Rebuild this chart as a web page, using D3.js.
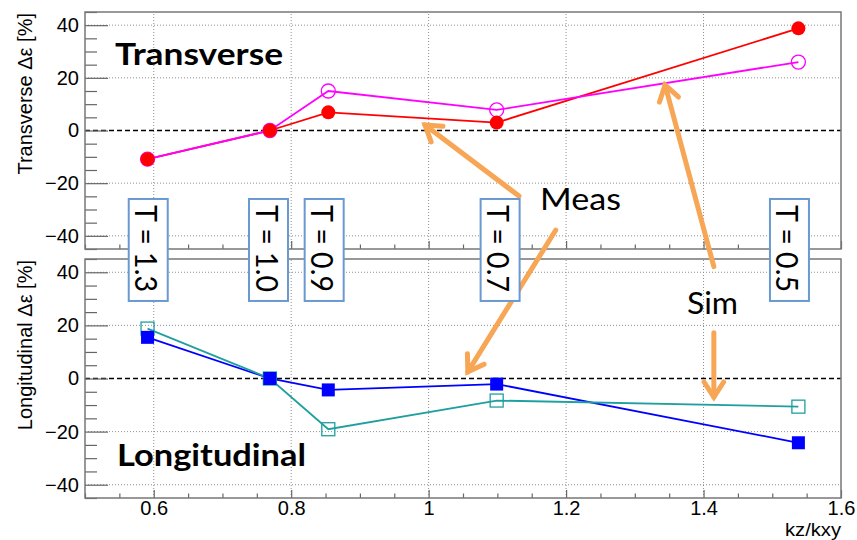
<!DOCTYPE html>
<html>
<head>
<meta charset="utf-8">
<script src="https://cdn.jsdelivr.net/npm/d3@7"></script>
<style>
  body { margin: 0; background: #fff; }
  svg { display: block; }
  .tick text { font-family: "Liberation Sans", Arial, sans-serif; font-size: 20px; fill: #000; }
  .domain { display: none; }
  .tick line { stroke: #666; stroke-width: 1.2; }
  .ax-title { font-family: "Liberation Sans", Arial, sans-serif; font-size: 20px; }
  .note { font-family: Lato, "Open Sans", sans-serif; font-size: 30px; }
</style>
</head>
<body>
<div id="chart"></div>
<script>
// data
const kRatio = [0.591, 0.769, 0.854, 1.099, 1.538];
const transMeas = [-10.9, 0, 6.9, 3.0, 38.8];
const transSim = [-10.9, 0, 15.0, 7.8, 26.0];
const longMeas = [15.5, 0, -4.3, -2.1, -24.2];
const longSim = [18.8, 0, -19.1, -8.3, -10.6];

const tempLabels = ['T = 1.3', 'T = 1.0', 'T = 0.9', 'T = 0.7', 'T = 0.5'];
const tempX = [0.592, 0.767, 0.848, 1.104, 1.525];

const xMajor = [0.6, 0.8, 1.0, 1.2, 1.4, 1.6];
const yMajor = [-40, -20, 0, 20, 40];

const width = 857, height = 540;
const orange = '#f7a656';

const svg = d3.select('#chart').append('svg')
  .attr('width', width)
  .attr('height', height);

const x = d3.scaleLinear().domain([0.5, 1.6]).range([85, 841]);
const yT = d3.scaleLinear().domain([-45, 45]).range([249, 12]);
const yL = d3.scaleLinear().domain([-45, 45]).range([498, 259]);

const panels = [
  { y: yT, title: 'Transverse \u0394\u03b5 [%]', meas: transMeas, sim: transSim, cMeas: '#ff0000', cSim: '#ff00ff', shape: 'circle', xLabels: false },
  { y: yL, title: 'Longitudinal \u0394\u03b5 [%]', meas: longMeas, sim: longSim, cMeas: '#0000ff', cSim: '#1f9f9f', shape: 'square', xLabels: true }
];

const yMinor = yT.ticks(18).filter(d => yMajor.indexOf(d) < 0);
const xMinor = x.ticks(22).filter(d => !xMajor.some(m => Math.abs(m - d) < 1e-6));

panels.forEach(p => {
  const g = svg.append('g');
  const [y0, y1] = p.y.range();

  // GRID
  g.selectAll('.gx').data(xMajor.slice(0, -1)).enter().append('line')
    .attr('x1', d => x(d)).attr('x2', d => x(d))
    .attr('y1', y0).attr('y2', y1)
    .attr('stroke', '#8f8f8f').attr('stroke-width', 1).attr('stroke-dasharray', '1,2');
  g.selectAll('.gy').data(yMajor.filter(d => d !== 0)).enter().append('line')
    .attr('x1', x.range()[0]).attr('x2', x.range()[1])
    .attr('y1', d => p.y(d)).attr('y2', d => p.y(d))
    .attr('stroke', '#8f8f8f').attr('stroke-width', 1).attr('stroke-dasharray', '1,2');

  // ZERO LINE
  g.append('line')
    .attr('x1', x.range()[0]).attr('x2', x.range()[1])
    .attr('y1', p.y(0)).attr('y2', p.y(0))
    .attr('stroke', '#000').attr('stroke-width', 1.3).attr('stroke-dasharray', '5,3');

  // Y AXIS (ticks inside frame)
  g.append('g').attr('transform', 'translate(' + x.range()[0] + ',0)')
    .call(d3.axisLeft(p.y).tickValues(yMajor).tickSize(-23).tickPadding(6));
  g.append('g').attr('transform', 'translate(' + x.range()[0] + ',0)')
    .call(d3.axisLeft(p.y).tickValues(yMinor).tickSize(-12).tickFormat(''));

  // X AXIS
  g.append('g').attr('transform', 'translate(0,' + y0 + ')')
    .call(d3.axisBottom(x).tickValues(xMajor).tickSize(-8).tickPadding(3)
      .tickFormat(p.xLabels ? d3.format('~g') : ''));
  g.append('g').attr('transform', 'translate(0,' + y0 + ')')
    .call(d3.axisBottom(x).tickValues(xMinor).tickSize(-4.5).tickFormat(''));

  // FRAME
  g.append('rect')
    .attr('x', x.range()[0]).attr('y', y1)
    .attr('width', x.range()[1] - x.range()[0]).attr('height', y0 - y1)
    .attr('fill', 'none').attr('stroke', '#777').attr('stroke-width', 1.5);

  // AXIS TITLE
  g.append('text')
    .attr('class', 'ax-title')
    .attr('transform', 'translate(32,' + (y1 + 1) + ') rotate(-90)')
    .attr('text-anchor', 'end')
    .text(p.title);

  // LINES
  const line = vals => d3.line().x((d, i) => x(kRatio[i])).y(d => p.y(d))(vals);
  g.append('path').attr('d', line(p.meas)).attr('fill', 'none').attr('stroke', p.cMeas).attr('stroke-width', 1.8);
  g.append('path').attr('d', line(p.sim)).attr('fill', 'none').attr('stroke', p.cSim).attr('stroke-width', 1.8);

  // MARKERS
  if (p.shape === 'circle') {
    g.selectAll('.sim').data(p.sim).enter().append('circle')
      .attr('cx', (d, i) => x(kRatio[i])).attr('cy', d => p.y(d))
      .attr('r', 7).attr('fill', 'none').attr('stroke', p.cSim).attr('stroke-width', 1.3);
    g.selectAll('.meas').data(p.meas).enter().append('circle')
      .attr('cx', (d, i) => x(kRatio[i])).attr('cy', d => p.y(d))
      .attr('r', 7).attr('fill', p.cMeas);
  } else {
    g.selectAll('.sim').data(p.sim).enter().append('rect')
      .attr('x', (d, i) => x(kRatio[i]) - 6.5).attr('y', d => p.y(d) - 6.5)
      .attr('width', 13).attr('height', 13)
      .attr('fill', 'none').attr('stroke', p.cSim).attr('stroke-width', 1.3);
    g.selectAll('.meas').data(p.meas).enter().append('rect')
      .attr('x', (d, i) => x(kRatio[i]) - 6.5).attr('y', d => p.y(d) - 6.5)
      .attr('width', 13).attr('height', 13)
      .attr('fill', p.cMeas);
  }
});

// x axis title
svg.append('text')
  .attr('class', 'ax-title')
  .attr('x', x.range()[1]).attr('y', 536)
  .attr('text-anchor', 'end')
  .style('font-size', '18px')
  .attr('textLength', 56).attr('lengthAdjust', 'spacingAndGlyphs')
  .text('kz/kxy');

// ARROWS (end points in panel units)
const arrows = [
  { from: [1.1315, yT(-24.9)], to: [0.9947, yT(2.1)] },
  { from: [1.185, yT(-37.8)], to: [1.057, yL(2.5)] },
  { from: [1.415, yL(42.1)], to: [1.344, yT(17.3)] },
  { from: [1.415, yL(17.2)], to: [1.415, yL(-7.0)] }
];

const ag = svg.append('g')
  .attr('stroke', orange).attr('stroke-width', 5)
  .attr('stroke-linecap', 'round').attr('fill', 'none');

arrows.forEach(a => {
  const x0 = x(a.from[0]), y0 = a.from[1];
  const x1 = x(a.to[0]), y1 = a.to[1];
  const ang = Math.atan2(y0 - y1, x0 - x1);
  const len = 18, spread = 33 * Math.PI / 180;
  ag.append('line').attr('x1', x0).attr('y1', y0).attr('x2', x1).attr('y2', y1);
  ag.append('polyline')
    .attr('stroke-linejoin', 'miter')
    .attr('points', [
      [x1 + len * Math.cos(ang - spread), y1 + len * Math.sin(ang - spread)],
      [x1, y1],
      [x1 + len * Math.cos(ang + spread), y1 + len * Math.sin(ang + spread)]
    ].map(pt => pt.join(',')).join(' '));
});

// TEMPERATURE BOXES
const boxTop = yT(-26), boxBot = yL(29.2), boxW = 39;
const bg = svg.selectAll('.tbox').data(tempLabels).enter().append('g');
bg.append('rect')
  .attr('x', (d, i) => x(tempX[i]) - boxW / 2)
  .attr('y', boxTop)
  .attr('width', boxW).attr('height', boxBot - boxTop)
  .attr('fill', '#fff').attr('stroke', '#6a99cf').attr('stroke-width', 2);
bg.append('text')
  .attr('class', 'note')
  .attr('transform', (d, i) => 'translate(' + (x(tempX[i]) - 13) + ',' + (boxTop + 6) + ') rotate(90)')
  .attr('textLength', 87).attr('lengthAdjust', 'spacingAndGlyphs')
  .text(d => d);

// LABELS
const notes = [
  { text: 'Transverse', x: 0.5437, y: yT(24.9), w: 168, bold: true },
  { text: 'Longitudinal', x: 0.5466, y: yL(-33.0), w: 189, bold: true },
  { text: 'Meas', x: 1.162, y: yT(-30.2), w: 81, bold: false },
  { text: 'Sim', x: 1.376, y: yL(24.3), w: 51, bold: false }
];
svg.selectAll('.lbl').data(notes).enter().append('text')
  .attr('class', 'note')
  .attr('x', d => x(d.x)).attr('y', d => d.y)
  .attr('font-weight', d => d.bold ? 'bold' : 'normal')
  .attr('textLength', d => d.w).attr('lengthAdjust', 'spacingAndGlyphs')
  .text(d => d.text);
</script>
</body>
</html>
